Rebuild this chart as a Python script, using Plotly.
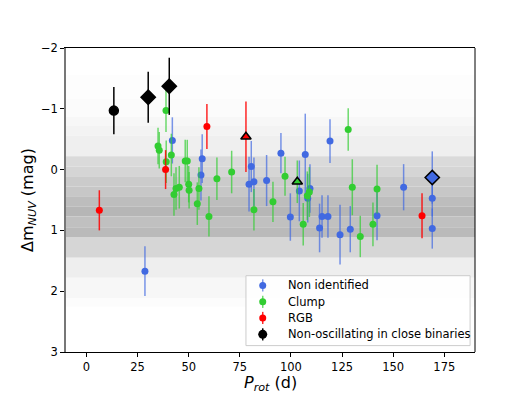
import plotly.graph_objects as go

# Non identified stars
ni_prot = [42.0, 56.6, 56.0, 80.6, 79.5, 81.9, 88.1, 95.1, 99.7, 104.1, 107.0, 108.2,
           109.3, 114.0, 115.2, 118.1, 119.1, 124.0, 129.0, 142.1, 155.1, 169.1, 169.1, 28.6]
ni_dm = [-0.48, -0.18, 0.09, -0.05, 0.24, 0.20, 0.18, -0.27, 0.78, 0.35, -0.25, 0.47,
         0.31, 0.96, 0.77, 0.77, -0.47, 1.07, 0.98, 0.76, 0.29, 0.47, 0.97, 1.67]
ni_err = [0.38, 0.40, 0.42, 0.42, 0.45, 0.40, 0.42, 0.33, 0.39, 0.50, 0.67, 0.40,
          0.40, 0.40, 0.35, 0.35, 0.36, 0.49, 0.38, 0.40, 0.38, 0.30, 0.33, 0.41]

# Clump stars
cl_prot = [38.9, 35.0, 35.6, 41.5, 39.0, 48.3, 49.3, 50.0, 50.2, 43.8, 45.4, 42.8, 54.2, 55.0,
           59.9, 63.8, 71.0, 81.9, 91.2, 97.1, 106.0, 108.0, 109.0, 128.0, 130.0, 133.9, 140.1, 142.1]
cl_dm = [-0.97, -0.39, -0.32, -0.24, -0.13, -0.14, -0.14, 0.24, 0.34, 0.31, 0.29, 0.41, 0.56, 0.31,
         0.77, 0.15, 0.04, 0.66, 0.53, 0.11, 0.90, 0.43, 0.37, -0.66, 0.29, 1.10, 0.90, 0.32]
cl_err = [0.35, 0.30, 0.30, 0.35, 0.35, 0.35, 0.35, 0.30, 0.30, 0.35, 0.35, 0.35, 0.35, 0.35,
          0.33, 0.35, 0.35, 0.34, 0.33, 0.32, 0.35, 0.40, 0.41, 0.35, 0.46, 0.34, 0.36, 0.40]

# RGB stars
rgb_prot = [6.3, 38.7, 58.9, 164.1]
rgb_dm = [0.67, 0.00, -0.71, 0.76]
rgb_err = [0.33, 0.32, 0.37, 0.37]

# Stars in close binaries
bin_prot = [13.4, 30.2, 40.5, 78.0, 103.1, 169.1]
bin_dm = [-0.97, -1.19, -1.37, -0.54, 0.20, 0.13]
bin_err = [0.39, 0.42, 0.47, 0.58, 0.35, 0.43]
bin_class = ['Non-osc', 'Non-osc', 'Non-osc', 'RGB', 'Clump', 'Non identified']
bin_kind = ['A', 'B', 'B', 'C', 'C', 'B']

# Background distribution bands (mag edges, grey level of each interval)
band_edges = [-1.55, -1.17, -0.87, -0.72, -0.56, -0.22, -0.05, 0.11, 0.28, 0.44,
              0.61, 0.77, 0.95, 1.11, 1.45, 1.78, 2.11, 2.25]
band_grey = [253, 251, 247, 243, 239, 218, 213, 203, 199, 189, 182, 192, 186, 214, 238, 247, 252]

legend_labels = ['Non identified', 'Clump', 'RGB', 'Non-oscillating in close binaries']
legend_keys = ['Non identified', 'Clump', 'RGB', 'Non-osc']

colors = {'Non identified': 'royalblue', 'Clump': 'limegreen', 'RGB': 'red', 'Non-osc': 'black'}
err_colors = {'Non identified': 'rgba(65,105,225,0.7)', 'Clump': 'rgba(50,205,50,0.7)',
              'RGB': 'rgba(255,0,0,0.85)', 'Non-osc': 'black'}
symbols = {'A': 'circle', 'B': 'diamond', 'C': 'triangle-up'}
sizes = {'A': 9, 'B': 11, 'C': 9}

fig = go.Figure()

for name, x, y, e in [('Non identified', ni_prot, ni_dm, ni_err),
                      ('Clump', cl_prot, cl_dm, cl_err),
                      ('RGB', rgb_prot, rgb_dm, rgb_err)]:
    fig.add_trace(go.Scatter(
        x=x, y=y, mode='markers', name=name, showlegend=False,
        marker=dict(color=colors[name], size=7),
        error_y=dict(type='data', array=e, color=err_colors[name], thickness=1.5, width=0),
    ))

# Close binaries, one trace each so that symbols and colours can differ
for i in range(len(bin_prot)):
    c = bin_class[i]
    fig.add_trace(go.Scatter(
        x=[bin_prot[i]], y=[bin_dm[i]], mode='markers', showlegend=False,
        marker=dict(color=colors[c], size=sizes[bin_kind[i]], symbol=symbols[bin_kind[i]],
                    line=dict(color='black', width=1.5)),
        error_y=dict(type='data', array=[bin_err[i]], color=err_colors[c], thickness=1.5, width=0),
    ))

shapes = []
for i, g in enumerate(band_grey):
    shapes.append(dict(type='rect', xref='paper', yref='y', x0=0, x1=1,
                       y0=band_edges[i], y1=band_edges[i + 1],
                       fillcolor=f'rgb({g},{g},{g})', line=dict(width=0), layer='below'))
# right spine
shapes.append(dict(type='line', xref='paper', yref='paper', x0=1, x1=1, y0=0, y1=1,
                   line=dict(color='black', width=1)))

# hand-made legend (matplotlib style, with error-bar keys)
lx0, lx1, ly0, ly1 = 0.440, 0.988, 0.021, 0.251
row_y = [0.219, 0.165, 0.112, 0.058]
shapes.append(dict(type='rect', xref='paper', yref='paper', x0=lx0, x1=lx1, y0=ly0, y1=ly1,
                   fillcolor='rgba(255,255,255,0.85)', line=dict(color='#cccccc', width=1),
                   layer='below'))
annotations = []
for k, lab, ry in zip(legend_keys, legend_labels, row_y):
    big = k == 'Non-osc'
    fig.add_trace(go.Scatter(
        x=[0.481], y=[ry], xaxis='x2', yaxis='y2', mode='markers', showlegend=False,
        hoverinfo='skip',
        marker=dict(color=colors[k], size=9 if big else 7),
        error_y=dict(type='constant', value=0.02, color=err_colors[k], thickness=1.5, width=0),
    ))
    annotations.append(dict(x=0.537, y=ry, xref='paper', yref='paper', text=lab,
                            showarrow=False, xanchor='left', yanchor='middle',
                            font=dict(size=11.5)))

# axis titles
annotations.append(dict(x=0.5, y=-0.105, xref='paper', yref='paper',
                        text='<i>P<sub>rot</sub></i> (d)', showarrow=False,
                        xanchor='center', yanchor='middle', font=dict(size=16)))
annotations.append(dict(x=-0.093, y=0.5, xref='paper', yref='paper', textangle=-90,
                        text='Δm<sub><i>NUV</i></sub> (mag)', showarrow=False,
                        xanchor='center', yanchor='middle', font=dict(size=16)))

# page body adds an 8px margin, so the figure is shifted up/left by that amount
fig.update_layout(
    width=520, height=388,
    margin=dict(l=58, r=53, t=39.5, b=43.6),
    plot_bgcolor='white', paper_bgcolor='white',
    font=dict(family='DejaVu Sans', size=11.5, color='black'),
    shapes=shapes, annotations=annotations, showlegend=False,
    xaxis=dict(
        range=[-10, 190], tickvals=[0, 25, 50, 75, 100, 125, 150, 175], automargin=False,
        showgrid=False, zeroline=False, showline=True, mirror=True, linecolor='black', linewidth=1,
        ticks='outside', ticklen=4, tickcolor='black', tickfont=dict(size=11.5),
    ),
    yaxis=dict(
        range=[3, -2], tickvals=[-2, -1, 0, 1, 2, 3], automargin=False,
        ticktext=['−2', '−1', '0', '1', '2', '3'],
        showgrid=False, zeroline=False, showline=True, mirror=False, linecolor='#777', linewidth=1.5,
        ticks='outside', ticklen=4, tickcolor='black', tickfont=dict(size=11.5),
    ),
    xaxis2=dict(overlaying='x', range=[0, 1], visible=False, fixedrange=True),
    yaxis2=dict(overlaying='y', range=[0, 1], visible=False, fixedrange=True),
)

fig.write_html("out.html")
